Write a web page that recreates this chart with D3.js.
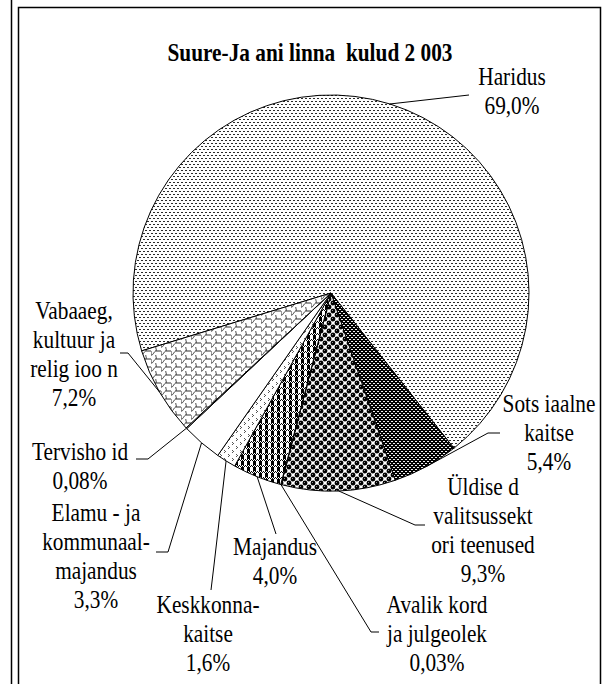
<!DOCTYPE html>
<html>
<head>
<meta charset="utf-8">
<script src="https://cdn.jsdelivr.net/npm/d3@7"></script>
<style>
  body { margin: 0; background: #fff; }
  text { font-family: "Liberation Serif", "Times New Roman", serif; fill: #000; }
</style>
</head>
<body>
<div id="chart"></div>
<script>
"use strict";

// data
var title = "Suure-Ja ani linna  kulud 2 003";
var categories = ["Haridus", "Sotsiaalne kaitse", "Üldised valitsussektori teenused",
  "Avalik kord ja julgeolek", "Majandus", "Keskkonnakaitse",
  "Elamu- ja kommunaalmajandus", "Tervishoid", "Vabaaeg, kultuur ja religioon"];
var shares = [69.0, 5.4, 9.3, 0.03, 4.0, 1.6, 3.3, 0.08, 7.2];
var labelLines = [
  ["Haridus"],
  ["Sots iaalne", "kaitse"],
  ["Üldise d", "valitsussekt", "ori teenused"],
  ["Avalik kord", "ja julgeolek"],
  ["Majandus"],
  ["Keskkonna-", "kaitse"],
  ["Elamu - ja", "kommunaal-", "majandus"],
  ["Tervisho id"],
  ["Vabaaeg,", "kultuur ja", "relig ioo n"]
];

// layout
var W = 612, H = 684;
var cx = 331, cy = 293, r = 198;
var lineH = 29;
var labelAt = [[512, 85], [549, 412], [483, 495], [437, 613], [275, 555],
  [208, 613], [96, 521], [80, 460], [74, 319]];
var leaderTo = [
  [[469, 95]],
  [[488, 433], [500, 433]],
  [[415, 525], [425, 525]],
  [[371, 632], [379, 632]],
  [[276, 534]],
  [[214, 565], [211, 590]],
  [[168, 552], [156, 552]],
  [[148, 459], [136, 459]],
  [[128, 353], [120, 353]]
];

function pct(v) {
  var s = v < 0.1 ? v.toFixed(2) : v.toFixed(1);
  return s.replace(".", ",") + "%";
}

var svg = d3.select("#chart").append("svg")
  .attr("width", W)
  .attr("height", H);

//Patterns
var defs = svg.append("defs");
function pattern(id, w, h, bg) {
  var p = defs.append("pattern")
    .attr("id", id)
    .attr("patternUnits", "userSpaceOnUse")
    .attr("width", w)
    .attr("height", h);
  p.append("rect").attr("width", w).attr("height", h).attr("fill", bg || "#fff");
  return p;
}
function dots(p, list, color) {
  list.forEach(function(d) {
    p.append("rect").attr("x", d[0]).attr("y", d[1])
      .attr("width", d[2] || 1).attr("height", d[3] || 1).attr("fill", color);
  });
}

var p0 = pattern("p0", 4, 6);
dots(p0, [[0, 0, 2, 1], [2, 3, 2, 1]], "#2a2a2a");

var p1 = pattern("p1", 4, 4, "#000");
dots(p1, [[0, 0, 2, 1], [2, 2, 2, 1]], "#f0f0f0");

var p2 = pattern("p2", 8, 8);
[[2, 2], [6, 6], [6, -2], [-2, 6], [10, 2], [2, 10], [-2, -2], [10, 10]].forEach(function(c) {
  p2.append("circle").attr("cx", c[0]).attr("cy", c[1]).attr("r", 2.4).attr("fill", "#000");
});
dots(p2, [[1, 1], [5, 5]], "#888");

pattern("p3", 4, 4);

var p4 = pattern("p4", 6, 6);
dots(p4, [[0, 0, 3, 4]], "#000");
dots(p4, [[0, 4], [2, 4], [4, 4], [1, 5], [3, 5], [5, 5]], "#000");

var p5 = pattern("p5", 8, 8);
dots(p5, [[1, 1], [2, 2], [1, 3], [5, 5], [6, 6], [5, 7]], "#555");

pattern("p6", 4, 4);
pattern("p7", 4, 4);

var p8 = pattern("p8", 10, 8);
p8.append("path")
  .attr("d", "M0,2 V6 C2,7 3,2 5,2 H10 M5,2 C6,0 4,-1 5,-2 M5,10 C6,8 4,7 5,6")
  .attr("fill", "none")
  .attr("stroke", "#333")
  .attr("stroke-width", 1);

//Frame
svg.append("line").attr("x1", 11.5).attr("y1", 0).attr("x2", 11.5).attr("y2", H)
  .attr("stroke", "#000").attr("stroke-width", 1.5);
svg.append("path")
  .attr("d", "M18.5," + H + " V7.5 H600.5 V" + H)
  .attr("fill", "none").attr("stroke", "#000").attr("stroke-width", 1.5);

//Title
svg.append("text")
  .attr("transform", "translate(310,61) scale(0.82,1)")
  .attr("text-anchor", "middle")
  .attr("font-size", 26)
  .attr("font-weight", "bold")
  .style("white-space", "pre")
  .text(title);

//Pie
var pie = d3.pie().sort(null).value(function(d) { return d; })
  .startAngle(-107 * Math.PI / 180)
  .endAngle(253 * Math.PI / 180);
var arcs = pie(shares);
var arc = d3.arc().innerRadius(0).outerRadius(r);
var edge = d3.arc().innerRadius(r).outerRadius(r);

var g = svg.append("g").attr("transform", "translate(" + cx + "," + cy + ")");
g.selectAll("path.slice")
  .data(arcs)
  .enter().append("path")
  .attr("class", "slice")
  .attr("d", arc)
  .attr("fill", function(d, i) { return "url(#p" + i + ")"; })
  .attr("stroke", "#000")
  .attr("stroke-width", 1)
  .attr("stroke-linejoin", "round");

//Leader lines
var line = d3.line();
arcs.forEach(function(d, i) {
  var c = edge.centroid(d);
  var pts = [[cx + c[0], cy + c[1]]].concat(leaderTo[i]);
  svg.append("path")
    .attr("d", line(pts))
    .attr("fill", "none")
    .attr("stroke", "#000")
    .attr("stroke-width", 1);
});

//Labels
labelLines.forEach(function(lines, i) {
  var all = lines.concat([pct(shares[i])]);
  var lg = svg.append("g")
    .attr("transform", "translate(" + labelAt[i][0] + "," + labelAt[i][1] + ")");
  all.forEach(function(t, k) {
    lg.append("text")
      .attr("transform", "translate(0," + (k * lineH) + ") scale(0.82,1)")
      .attr("text-anchor", "middle")
      .attr("font-size", 26)
      .style("white-space", "pre")
      .text(t);
  });
});
</script>
</body>
</html>
